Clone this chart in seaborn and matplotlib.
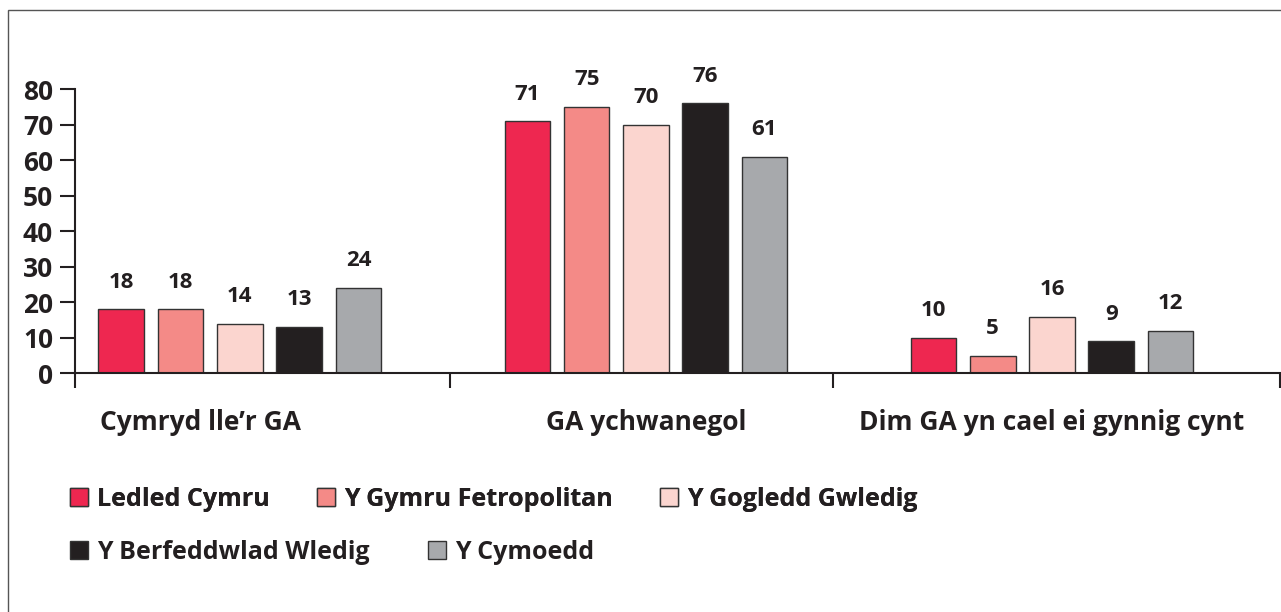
import pandas as pd
import numpy as np
import matplotlib.pyplot as plt
import seaborn as sns
from matplotlib.patches import Patch, Rectangle
from matplotlib.transforms import ScaledTranslation

# Дані
categories = ['Cymryd lle’r GA', 'GA ychwanegol', 'Dim GA yn cael ei gynnig cynt']
regions = ['Ledled Cymru', 'Y Gymru Fetropolitan', 'Y Gogledd Gwledig',
           'Y Berfeddwlad Wledig', 'Y Cymoedd']
ledled_cymru = [18, 71, 10]
gymru_fetropolitan = [18, 75, 5]
gogledd_gwledig = [14, 70, 16]
berfeddwlad_wledig = [13, 76, 9]
cymoedd = [24, 61, 12]
y_ticks = [0, 10, 20, 30, 40, 50, 60, 70, 80]

colors = ['#EE2750', '#F48A87', '#FBD5CF', '#231F20', '#A7A9AC']
text_color = '#231F20'

df = pd.DataFrame({
    'category': categories * 5,
    'region': np.repeat(regions, 3),
    'value': ledled_cymru + gymru_fetropolitan + gogledd_gwledig + berfeddwlad_wledig + cymoedd,
})

sns.set_style('white')
plt.rcParams['font.family'] = ['Open Sans', 'DejaVu Sans']
plt.rcParams['font.weight'] = 'bold'

W, H = 1281, 612
fig = plt.figure(figsize=(W / 100, H / 100), dpi=100)
ax = fig.add_axes([75 / W, 238.7 / H, (1280 - 75) / W, (373.3 - 89.3) / H])

sns.barplot(data=df, x='category', y='value', hue='region', palette=colors,
            saturation=1, width=0.73, gap=0.23, edgecolor='#333333', linewidth=1.0,
            legend=False, ax=ax)

# підписи значень
for cont in ax.containers:
    ax.bar_label(cont, fmt='{:.0f}', padding=12, fontsize=16,
                 fontweight='bold', color=text_color)

ax.set_ylim(0, 80)
ax.set_xlim(-0.406, 2.5616)
ax.set_yticks(y_ticks)
ax.set_xlabel('')
ax.set_ylabel('')
ax.set_xticks(range(len(categories)))
ax.set_xticklabels(categories)
ax.set_xticks([-0.406, 0.517, 1.461, 2.5616], minor=True)

for side in ['top', 'right']:
    ax.spines[side].set_visible(False)
for side in ['left', 'bottom']:
    ax.spines[side].set_color(text_color)
    ax.spines[side].set_linewidth(1.5)

ax.tick_params(axis='y', direction='out', length=10.8, width=1.5, color=text_color,
               labelsize=19, labelcolor=text_color, pad=5, left=True)
ax.tick_params(axis='x', which='major', length=0, labelsize=19,
               labelcolor=text_color, pad=26)
ax.tick_params(axis='x', which='minor', direction='out', length=10.8, width=1.5,
               color=text_color, bottom=True)
for lab in ax.get_yticklabels() + ax.get_xticklabels():
    lab.set_fontweight('bold')

# перший підпис трохи лівіше
first = ax.get_xticklabels()[0]
first.set_transform(first.get_transform() + ScaledTranslation(-0.39, 0, fig.dpi_scale_trans))

# легенда у два рядки
handles = [Patch(facecolor=c, edgecolor='#333333', linewidth=1.0) for c in colors]
leg_kw = dict(loc='upper left', bbox_transform=fig.transFigure, frameon=False,
              borderpad=0, borderaxespad=0, handlelength=0.72, handleheight=0.72,
              handletextpad=0.35, prop={'size': 18, 'weight': 'bold'},
              labelcolor=text_color)
leg1 = fig.legend(handles[:3], regions[:3], ncol=3, columnspacing=1.9,
                  bbox_to_anchor=(70 / W, 1 - 487 / H), **leg_kw)
leg2 = fig.legend(handles[3:], regions[3:], ncol=2, columnspacing=2.35,
                  bbox_to_anchor=(70 / W, 1 - 540 / H), **leg_kw)
fig.add_artist(leg1)

# рамка
fig.patches.append(Rectangle((8 / W, -0.1), 1.2, 1 - 10 / H + 0.1, transform=fig.transFigure,
                             fill=False, edgecolor='#555555', linewidth=1.0))

fig.savefig('out.png', dpi=100)
